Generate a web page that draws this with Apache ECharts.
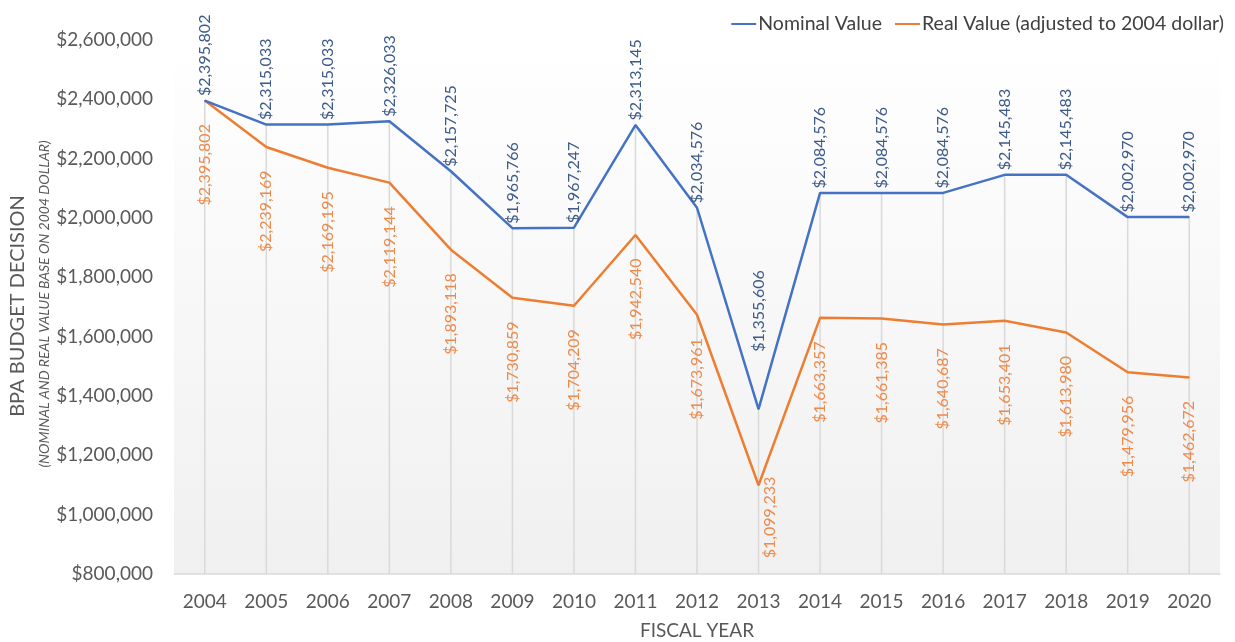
<!DOCTYPE html>
<html>
<head>
<meta charset="utf-8">
<script src="https://cdn.jsdelivr.net/npm/echarts@6/dist/echarts.min.js"></script>
<style>
  html, body { margin: 0; padding: 0; background: #fff; }
  #chart { width: 1235px; height: 642px; }
</style>
</head>
<body>
<div id="chart"></div>
<script>
// Fiscal years on the x axis
const years = ['2004','2005','2006','2007','2008','2009','2010','2011','2012','2013','2014','2015','2016','2017','2018','2019','2020'];

// BPA budget decision, nominal dollars
const nominalValues = [2395802, 2315033, 2315033, 2326033, 2157725, 1965766, 1967247, 2313145, 2034576, 1355606, 2084576, 2084576, 2084576, 2145483, 2145483, 2002970, 2002970];

// Same budget expressed in 2004 dollars
const realValues = [2395802, 2239169, 2169195, 2119144, 1893118, 1730859, 1704209, 1942540, 1673961, 1099233, 1663357, 1661385, 1640687, 1653401, 1613980, 1479956, 1462672];

const seriesNames = ['Nominal Value', 'Real Value (adjusted to 2004 dollar)'];

const yMin = 800000, yMax = 2600000, yStep = 200000;

const money = v => '$' + Number(v).toLocaleString('en-US');
const FONT = 'Lato';
const LOW_YEAR = '2013'; // the dip year gets its labels nudged clear of the lines

const nominalData = nominalValues.map((v, i) => years[i] === LOW_YEAR
  ? { value: v, label: { distance: 57 } }
  : v);

const realData = realValues.map((v, i) => years[i] === LOW_YEAR
  ? { value: v, label: { position: [12, -8] } }
  : v);

const chart = echarts.init(document.getElementById('chart'), null, { renderer: 'canvas' });

chart.setOption({
  animation: false,
  backgroundColor: '#ffffff',
  textStyle: { fontFamily: FONT },
  grid: {
    left: 174, right: 15, top: 40, bottom: 68,
    outerBoundsMode: 'none',
    containLabel: false,
    show: true,
    borderWidth: 0,
    backgroundColor: new echarts.graphic.LinearGradient(0, 0, 0, 1, [
      { offset: 0, color: '#ffffff' },
      { offset: 1, color: '#f0f0f0' }
    ])
  },
  legend: {
    top: 9, right: 6,
    itemGap: 13,
    itemWidth: 25, itemHeight: 2,
    icon: 'rect',
    textStyle: { fontFamily: FONT, fontSize: 19.5, color: '#404040', padding: [0, 0, 0, -3] },
    data: seriesNames
  },
  xAxis: {
    type: 'category',
    data: years,
    boundaryGap: true,
    name: 'FISCAL YEAR',
    nameLocation: 'middle',
    nameGap: 47,
    nameTextStyle: { fontFamily: FONT, fontSize: 19, color: '#595959' },
    axisLine: { show: true, lineStyle: { color: '#d9d9d9', width: 1.5 } },
    axisTick: { show: false },
    axisLabel: { fontFamily: FONT, fontSize: 19, color: '#595959', margin: 18 },
    splitLine: { show: false }
  },
  yAxis: {
    type: 'value',
    min: yMin, max: yMax, interval: yStep,
    axisLine: { show: false },
    axisTick: { show: false },
    axisLabel: { fontFamily: FONT, fontSize: 19, color: '#595959', margin: 21, formatter: money },
    splitLine: { show: false }
  },
  graphic: [
    {
      type: 'text',
      x: 18, y: 306,
      rotation: Math.PI / 2,
      style: {
        text: 'BPA BUDGET DECISION',
        font: '20px ' + FONT,
        fill: '#595959',
        align: 'center',
        verticalAlign: 'middle'
      }
    },
    {
      type: 'text',
      x: 44, y: 304,
      rotation: Math.PI / 2,
      style: {
        text: '(NOMINAL AND REAL VALUE BASE ON 2004 DOLLAR)',
        font: 'italic 14px ' + FONT,
        fill: '#595959',
        align: 'center',
        verticalAlign: 'middle'
      }
    }
  ],
  series: [
    {
      name: seriesNames[0],
      type: 'line',
      data: nominalData,
      symbol: 'circle',
      symbolSize: 1,
      lineStyle: { color: '#4472C4', width: 2.5 },
      itemStyle: { color: '#4472C4' },
      label: {
        show: true,
        position: 'top',
        distance: 4,
        rotate: 90,
        align: 'left',
        verticalAlign: 'middle',
        fontFamily: FONT,
        fontSize: 16,
        color: '#3D5A8A',
        formatter: p => money(p.value)
      },
      z: 3
    },
    {
      name: seriesNames[1],
      type: 'line',
      data: realData,
      symbol: 'circle',
      symbolSize: 1,
      lineStyle: { color: '#ED7D31', width: 2.5 },
      itemStyle: { color: '#ED7D31' },
      label: {
        show: true,
        position: 'bottom',
        distance: 23,
        rotate: 90,
        align: 'right',
        verticalAlign: 'middle',
        fontFamily: FONT,
        fontSize: 16,
        color: '#EE8A4A',
        formatter: p => money(p.value)
      },
      z: 2
    },
    {
      // drop lines from the higher (nominal) value down to the axis
      type: 'bar',
      data: nominalValues,
      barWidth: 1.5,
      silent: true,
      itemStyle: { color: '#d9d9d9' },
      z: 1,
      legendHoverLink: false,
      tooltip: { show: false }
    }
  ]
});
</script>
</body>
</html>
